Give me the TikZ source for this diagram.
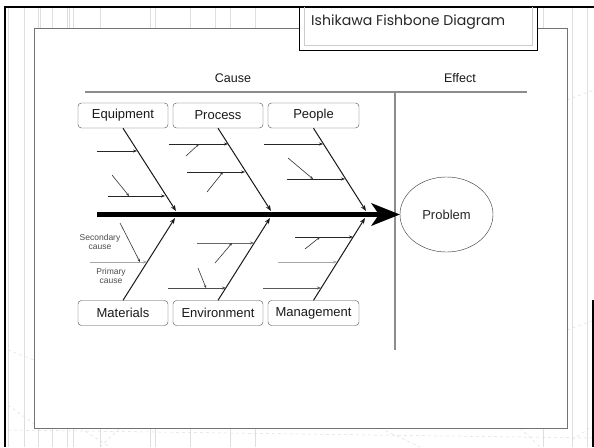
\documentclass[tikz,border=0pt]{standalone}
\usepackage{fontspec}
\setmainfont{Liberation Sans}
\newfontfamily\titlefont{Poppins}
\usetikzlibrary{arrows.meta,calc,shapes.geometric}
\begin{document}
\begin{tikzpicture}[x=1pt,y=-1pt,
  faint/.style={draw=black!13, line width=0.5pt},
  catbox/.style={draw=black!70, rounded corners=3.5pt, minimum height=25pt, inner sep=0pt, font=\fontsize{13}{15}\selectfont, text=black!90},
  rib/.style={draw=black!90, line width=1pt, -{Stealth[length=6pt,width=4.5pt]}},
  prim/.style={draw=black!85, line width=0.8pt, -{Stealth[length=4pt,width=3pt]}},
  primlight/.style={prim, draw=black!35},
  sec/.style={draw=black!80, line width=0.6pt, -{Stealth[length=3pt,width=2.5pt]}},
  lbl/.style={font=\fontsize{12.5}{14}\selectfont, text=black!90},
  small/.style={font=\fontsize{8.5}{10}\selectfont, text=black!70, align=center, inner sep=0pt}]
\useasboundingbox (0,0) rectangle (594,447);
\fill[white] (0,0) rectangle (594,447);
% faint background lines
\foreach \x in {8,24,38,40,52,67,69,73,100,150,155,190,215,230,255,543,572,587}
  \draw[faint] (\x,8) -- (\x,28);
\foreach \x in {8,24,572,587}
  \draw[faint] (\x,28) -- (\x,447);
\foreach \x in {38,52,67,73,100,150,155,190,230,255,543}
  \draw[faint] (\x,428) -- (\x,447);
\draw[faint, dashed] (8,405) -- (40,428);
\draw[faint, dashed] (8,350) -- (34,360);
\draw[faint, dashed] (100,447) -- (120,428);
\draw[faint, dashed] (80,428) -- (110,447);
\draw[faint, dashed] (380,428) -- (420,447);
\draw[faint, dashed] (520,428) -- (540,447);
\draw[faint, dashed] (572,440) -- (594,425);
\draw[faint, dashed] (567,330) -- (594,320);
\draw[faint, dashed] (567,100) -- (594,90);
\draw[faint, dashed] (8,430) -- (594,438);
% outer frame
\draw[black, line width=2.5pt] (5,447) -- (5,7) -- (594,7);
\draw[black, line width=2pt] (593,300) -- (593,447);
% panel
\draw[draw=black!55, fill=white, line width=1pt] (34,28) rectangle (567,428);
% title box
\draw[draw=black, fill=white, line width=1pt] (299,7) rectangle (537,50);
\draw[draw=black!20, line width=0.8pt] (304,7) -- (304,45) -- (532,45) -- (532,7);
\node[anchor=base west, inner sep=0pt, text=black!85] (title) at (311,25)
  {\resizebox{194pt}{!}{\titlefont Ishikawa Fishbone Diagram}};
% headings
\node[lbl] (cause) at (233,78) {Cause};
\node[lbl] (effect) at (460,78) {Effect};
\coordinate (hl) at (85,92);
\coordinate (hr) at (527,92);
\coordinate (vb) at (395,350);
\coordinate (vt) at (395,92);
\draw[black!45, line width=1.2pt] (hl) -- (hr);
\draw[black!45, line width=1.2pt] (vt) -- (vb);
% category boxes
\node[catbox, minimum width=90pt] (equip) at (123,115.5) {Equipment};
\node[catbox, minimum width=90pt] (proc) at (218,115.5) {Process};
\node[catbox, minimum width=91pt] (people) at (313.5,115.5) {People};
\node[catbox, minimum width=90pt] (mat) at (123,313) {Materials};
\node[catbox, minimum width=90pt] (env) at (218,313) {Environment};
\node[catbox, minimum width=91pt] (mgmt) at (313.5,313) {Management};
% problem
\node[draw=black!80, ellipse, minimum width=93pt, minimum height=75pt, inner sep=0pt, font=\fontsize{13}{15}\selectfont, text=black!85] (prob) at (446.5,214.5) {Problem};
% spine
\coordinate (sp0) at (97,214.5);
\coordinate (sp1) at (379,214.5);
\draw[black, line width=5pt] (sp0) -- (sp1);
\fill[black] (prob.west) -- (371,203) -- (379,214.5) -- (371,226) -- cycle;
% ribs
\coordinate (eqE) at (176,211);
\coordinate (prE) at (271,211);
\coordinate (peE) at (366,211);
\coordinate (maE) at (175,218);
\coordinate (enE) at (270,218);
\coordinate (mgE) at (365,218);
\draw[rib] (equip.south) -- (eqE);
\draw[rib] (proc.south) -- (prE);
\draw[rib] (people.south) -- (peE);
\draw[rib] (mat.north) -- (maE);
\draw[rib] (env.north) -- (enE);
\draw[rib] (mgmt.north) -- (mgE);
% Equipment causes
\coordinate (eqa0) at (97,151);   \coordinate (eqa1) at (137,151);
\coordinate (eqb0) at (108,196);  \coordinate (eqb1) at (165,196);
\coordinate (eqs0) at (112,175);  \coordinate (eqs1) at (129,196);
\draw[prim] (eqa0) -- (eqa1);
\draw[prim] (eqb0) -- (eqb1);
\draw[sec] (eqs0) -- (eqs1);
% Process causes
\coordinate (pra0) at (169,144);  \coordinate (pra1) at (228,144);
\coordinate (prb0) at (187,172);  \coordinate (prb1) at (245,172);
\coordinate (prs0) at (186,156);  \coordinate (prs1) at (199,144);
\coordinate (prt0) at (207,192);  \coordinate (prt1) at (223,172);
\draw[prim] (pra0) -- (pra1);
\draw[prim] (prb0) -- (prb1);
\draw[sec] (prs0) -- (prs1);
\draw[sec] (prt0) -- (prt1);
% People causes
\coordinate (pea0) at (264,144);  \coordinate (pea1) at (323,144);
\coordinate (peb0) at (287,179);  \coordinate (peb1) at (345,179);
\coordinate (pes0) at (288,158);  \coordinate (pes1) at (313,179);
\draw[prim] (pea0) -- (pea1);
\draw[prim] (peb0) -- (peb1);
\draw[sec] (pes0) -- (pes1);
% Materials causes
\coordinate (maa0) at (90,262);   \coordinate (maa1) at (147,262);
\coordinate (mas0) at (120,223);  \coordinate (mas1) at (140,262);
\draw[primlight] (maa0) -- (maa1);
\draw[sec] (mas0) -- (mas1);
\node[small] (seclbl) at (100,242) {Secondary\\[-1.5pt]cause};
\node[small] (primlbl) at (111,276) {Primary\\[-1.5pt]cause};
% Environment causes
\coordinate (ena0) at (197,243);  \coordinate (ena1) at (254,243);
\coordinate (enb0) at (168,288);  \coordinate (enb1) at (226,288);
\coordinate (ens0) at (215,263);  \coordinate (ens1) at (232,243);
\coordinate (ent0) at (198,268);  \coordinate (ent1) at (206,288);
\draw[prim, draw=black!60] (ena0) -- (ena1);
\draw[prim, draw=black!70] (enb0) -- (enb1);
\draw[sec] (ens0) -- (ens1);
\draw[sec] (ent0) -- (ent1);
% Management causes
\coordinate (mga0) at (295,237);  \coordinate (mga1) at (353,237);
\coordinate (mgb0) at (278,262);  \coordinate (mgb1) at (337,262);
\coordinate (mgc0) at (263,288);  \coordinate (mgc1) at (321,288);
\coordinate (mgs0) at (305,249);  \coordinate (mgs1) at (320,237);
\draw[prim] (mga0) -- (mga1);
\draw[primlight] (mgb0) -- (mgb1);
\draw[prim, draw=black!65] (mgc0) -- (mgc1);
\draw[sec] (mgs0) -- (mgs1);
\end{tikzpicture}
\end{document}
